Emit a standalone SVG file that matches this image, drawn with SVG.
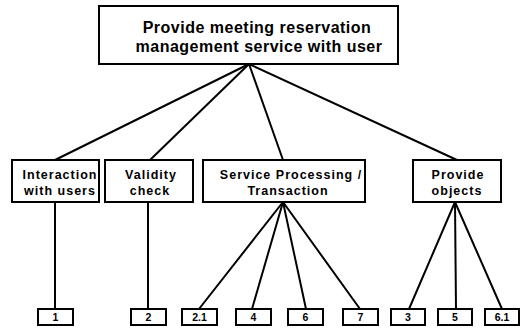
<svg xmlns="http://www.w3.org/2000/svg" width="525" height="333" viewBox="0 0 525 333">
  <style>
    .box { fill: #ffffff; stroke: #000000; stroke-width: 2; }
    .edge { stroke: #000000; stroke-width: 2; fill: none; stroke-linecap: round; }
    text { font-family: "Liberation Sans", Arial, sans-serif; font-weight: bold; fill: #000000; text-anchor: middle; }
    .t1 { font-size: 16px; letter-spacing: 0.5px; }
    .t2 { font-size: 12.5px; letter-spacing: 1px; }
    .t3 { font-size: 10.5px; }
  </style>
  <rect width="525" height="333" fill="#ffffff"/>

  <!-- connectors -->
  <g id="connectors">
    <line class="edge" x1="249" y1="64" x2="55" y2="160"/>
    <line class="edge" x1="249" y1="64" x2="150" y2="160"/>
    <line class="edge" x1="249" y1="64" x2="283" y2="160"/>
    <line class="edge" x1="249" y1="64" x2="457" y2="160"/>

    <line class="edge" x1="55" y1="202" x2="55" y2="309"/>
    <line class="edge" x1="148" y1="202" x2="148" y2="309"/>

    <line class="edge" x1="283" y1="202" x2="199" y2="309"/>
    <line class="edge" x1="283" y1="202" x2="252" y2="309"/>
    <line class="edge" x1="283" y1="202" x2="306" y2="309"/>
    <line class="edge" x1="283" y1="202" x2="360" y2="309"/>

    <line class="edge" x1="455" y1="202" x2="409" y2="309"/>
    <line class="edge" x1="455" y1="202" x2="456" y2="309"/>
    <line class="edge" x1="455" y1="202" x2="502" y2="309"/>
  </g>

  <!-- root -->
  <g id="root">
    <rect class="box" x="99" y="6" width="299" height="58"/>
    <text class="t1" x="257" y="33">Provide meeting reservation</text>
    <text class="t1" x="259" y="52">management service with user</text>
  </g>

  <!-- second level -->
  <g id="interaction">
    <rect class="box" x="12" y="160" width="87" height="42"/>
    <text class="t2" x="60" y="179">Interaction</text>
    <text class="t2" x="60" y="195">with users</text>
  </g>
  <g id="validity">
    <rect class="box" x="105" y="160" width="88" height="42"/>
    <text class="t2" x="151" y="179">Validity</text>
    <text class="t2" x="150" y="195">check</text>
  </g>
  <g id="service">
    <rect class="box" x="203" y="160" width="162" height="42"/>
    <text class="t2" x="291" y="179">Service Processing /</text>
    <text class="t2" x="288" y="195">Transaction</text>
  </g>
  <g id="objects">
    <rect class="box" x="413" y="160" width="88" height="42"/>
    <text class="t2" x="458" y="179">Provide</text>
    <text class="t2" x="457" y="195">objects</text>
  </g>

  <!-- leaves -->
  <g id="leaf-1">
    <rect class="box" x="38" y="309" width="35" height="16"/>
    <text class="t3" x="55.5" y="321">1</text>
  </g>
  <g id="leaf-2">
    <rect class="box" x="131" y="309" width="35" height="16"/>
    <text class="t3" x="148.5" y="321">2</text>
  </g>
  <g id="leaf-2-1">
    <rect class="box" x="182" y="309" width="35" height="16"/>
    <text class="t3" x="199.5" y="321">2.1</text>
  </g>
  <g id="leaf-4">
    <rect class="box" x="236" y="309" width="35" height="16"/>
    <text class="t3" x="253.5" y="321">4</text>
  </g>
  <g id="leaf-6">
    <rect class="box" x="288" y="309" width="35" height="16"/>
    <text class="t3" x="305.5" y="321">6</text>
  </g>
  <g id="leaf-7">
    <rect class="box" x="343" y="309" width="35" height="16"/>
    <text class="t3" x="360.5" y="321">7</text>
  </g>
  <g id="leaf-3">
    <rect class="box" x="391" y="309" width="34" height="16"/>
    <text class="t3" x="408" y="321">3</text>
  </g>
  <g id="leaf-5">
    <rect class="box" x="438" y="309" width="34" height="16"/>
    <text class="t3" x="455" y="321">5</text>
  </g>
  <g id="leaf-6-1">
    <rect class="box" x="485" y="309" width="34" height="16"/>
    <text class="t3" x="502" y="321">6.1</text>
  </g>
</svg>
